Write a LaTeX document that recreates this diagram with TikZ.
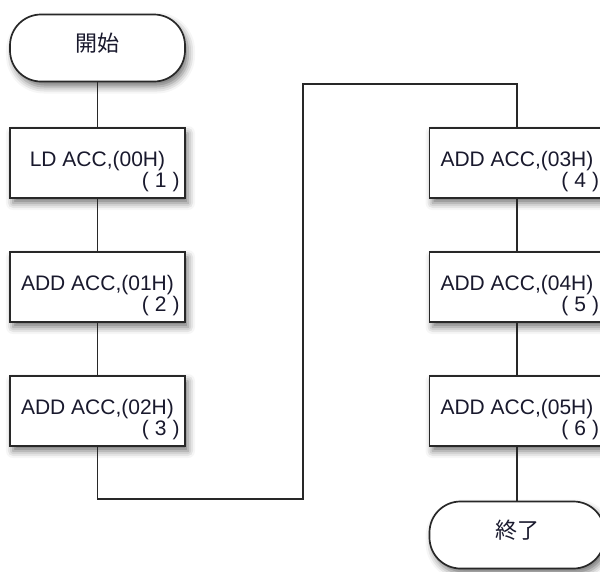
\documentclass[tikz,border=0pt]{standalone}
\usepackage{fontspec}
\setmainfont{Liberation Sans}
\newfontfamily\jpfont{Noto Sans CJK JP}
\usepackage{tikz}
\usetikzlibrary{positioning, shadows.blur}
\definecolor{edge}{RGB}{40,40,40}
\definecolor{ink}{RGB}{25,25,45}
\newcommand{\stepnum}[1]{(\hspace{6pt}#1\hspace{6pt})}

\begin{document}
\begin{tikzpicture}[x=1pt, y=-1pt,
  boxshadow/.style={blur shadow={shadow xshift=3pt, shadow yshift=-5pt, shadow blur radius=7pt, shadow opacity=55}},
  terminal/.style={draw=edge, line width=1.7pt, fill=white, rounded corners=31pt, minimum width=175pt, minimum height=67pt, boxshadow},
  stepbox/.style={draw=edge, line width=1.7pt, fill=white, minimum width=175pt, minimum height=70pt, boxshadow},
  optext/.style={font=\fontsize{21}{24}\selectfont, text=ink, inner sep=0pt},
  numtext/.style={font=\fontsize{21}{24}\selectfont, text=ink, inner sep=0pt},
  jptext/.style={font=\jpfont\fontsize{22}{26}\selectfont, text=ink, inner sep=0pt},
  conn/.style={draw=edge, line width=1.7pt}]
  \useasboundingbox (0,0) rectangle (600,571);
  \clip (0,0) rectangle (600,571);

  % left column
  \node[terminal] (start) at (97.5,48) {};
  \node[jptext] (startlbl) at (97.5,43) {開始};

  \node[stepbox] (s1) at (97.5,163) {};
  \node[optext, anchor=base] (s1op) at ([yshift=-3pt]s1.center) {LD ACC,(00H)};
  \node[numtext, anchor=base east] (s1num) at ([xshift=-6pt, yshift=11pt]s1.south east) {\stepnum{1}};

  \node[stepbox] (s2) at (97.5,287) {};
  \node[optext, anchor=base] (s2op) at ([yshift=-3pt]s2.center) {ADD ACC,(01H)};
  \node[numtext, anchor=base east] (s2num) at ([xshift=-6pt, yshift=11pt]s2.south east) {\stepnum{2}};

  \node[stepbox] (s3) at (97.5,411) {};
  \node[optext, anchor=base] (s3op) at ([yshift=-3pt]s3.center) {ADD ACC,(02H)};
  \node[numtext, anchor=base east] (s3num) at ([xshift=-6pt, yshift=11pt]s3.south east) {\stepnum{3}};

  % right column
  \node[stepbox] (s4) at (517,163) {};
  \node[optext, anchor=base] (s4op) at ([yshift=-3pt]s4.center) {ADD ACC,(03H)};
  \node[numtext, anchor=base east] (s4num) at ([xshift=-6pt, yshift=11pt]s4.south east) {\stepnum{4}};

  \node[stepbox] (s5) at (517,287) {};
  \node[optext, anchor=base] (s5op) at ([yshift=-3pt]s5.center) {ADD ACC,(04H)};
  \node[numtext, anchor=base east] (s5num) at ([xshift=-6pt, yshift=11pt]s5.south east) {\stepnum{5}};

  \node[stepbox] (s6) at (517,411) {};
  \node[optext, anchor=base] (s6op) at ([yshift=-3pt]s6.center) {ADD ACC,(05H)};
  \node[numtext, anchor=base east] (s6num) at ([xshift=-6pt, yshift=11pt]s6.south east) {\stepnum{6}};

  \node[terminal] (finish) at (517,535) {};
  \node[jptext] (finishlbl) at (517,530) {終了};

  % connectors
  \coordinate (jb) at (303,499);
  \coordinate (jt) at (303,84);
  \draw[conn] (start) -- (s1);
  \draw[conn] (s1) -- (s2);
  \draw[conn] (s2) -- (s3);
  \draw[conn] (s3) |- (jb) -- (jt) -| (s4);
  \draw[conn] (s4) -- (s5);
  \draw[conn] (s5) -- (s6);
  \draw[conn] (s6) -- (finish);
\end{tikzpicture}
\end{document}
